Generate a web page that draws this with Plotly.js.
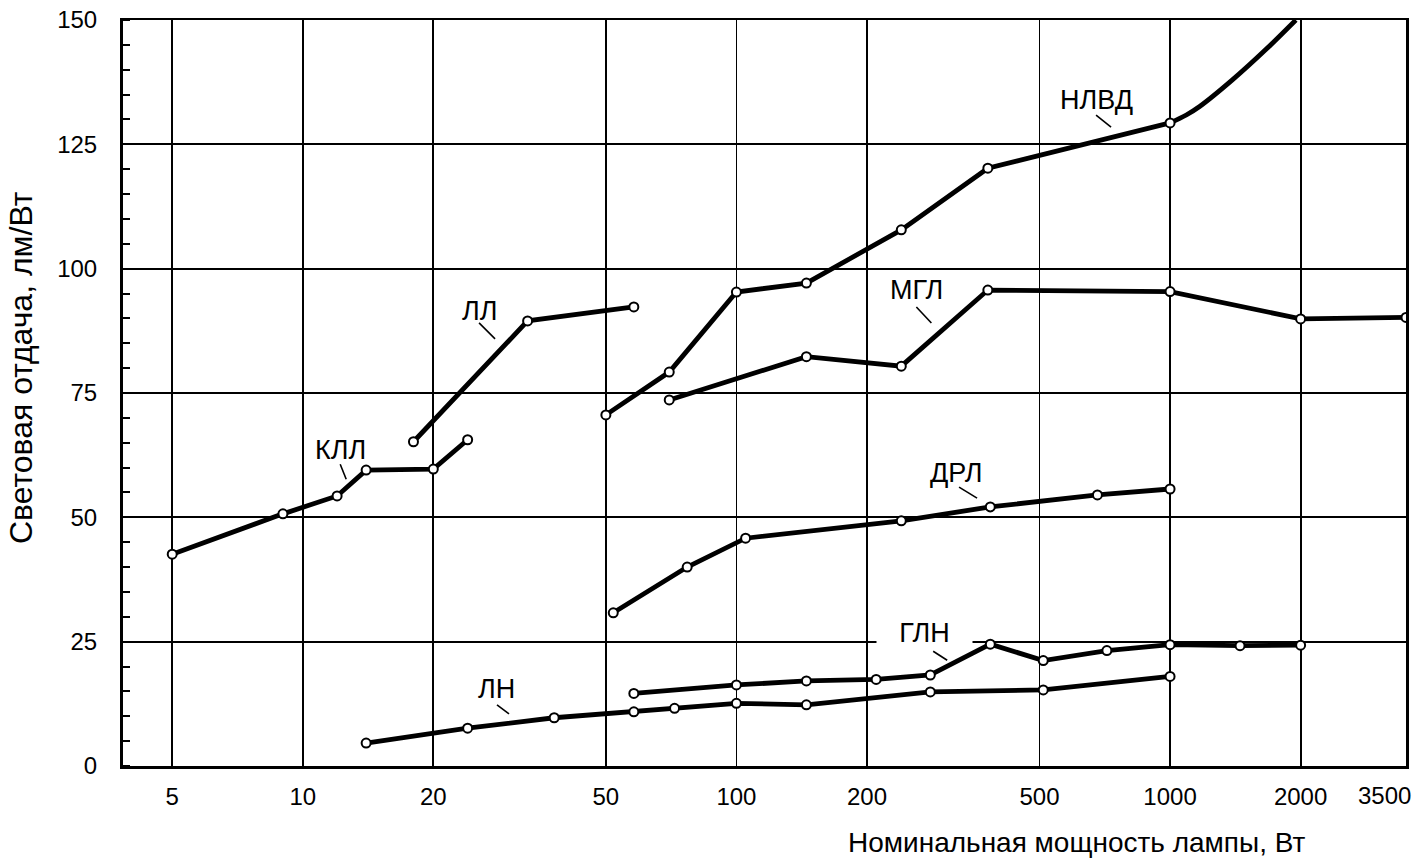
<!DOCTYPE html>
<html>
<head>
<meta charset="utf-8">
<script src="https://cdn.plot.ly/plotly-3.0.1.min.js"></script>
<style>
  html, body { margin: 0; padding: 0; background: #ffffff; }
  #chart { width: 1418px; height: 860px; }
</style>
</head>
<body>
<div id="chart"></div>
<script>
// ---- Data (lamp power, W  /  luminous efficacy, lm/W) ----
const kllPower  = [5, 9, 12, 14, 20, 24];
const kllEff    = [42.6, 50.7, 54.3, 59.5, 59.7, 65.6];

const llPower   = [18, 33, 58];
const llEff     = [65.2, 89.5, 92.3];

const nlvdPower = [50, 70, 100, 145, 240, 380, 1000];
const nlvdEff   = [70.6, 79.2, 95.3, 97.1, 107.8, 120.2, 129.3];
const nlvdCurvePower = [1000, 1090, 1170, 1390, 1660, 1950];
const nlvdCurveEff   = [129.3, 130.9, 132.6, 137.9, 144.0, 150];

const mglPower  = [70, 145, 240, 380, 1000, 2000, 3500];
const mglEff    = [73.6, 82.3, 80.4, 95.7, 95.4, 89.9, 90.2];

const drlPower  = [52, 77, 105, 240, 385, 680, 1000];
const drlEff    = [30.8, 40.0, 45.8, 49.3, 52.1, 54.5, 55.7];

const glnPower  = [58, 100, 145, 210, 280, 385, 510, 715, 1000, 1450, 2000];
const glnEff    = [14.6, 16.3, 17.1, 17.4, 18.3, 24.5, 21.2, 23.2, 24.4, 24.2, 24.3];

const lnPower   = [14, 24, 38, 58, 72, 100, 145, 280, 510, 1000];
const lnEff     = [4.6, 7.6, 9.7, 10.9, 11.6, 12.6, 12.3, 14.9, 15.3, 18.0];

const xTickVals = [5, 10, 20, 50, 100, 200, 500, 1000, 2000];
const xTickText = ['5', '10', '20', '50', '100', '200', '500', '1000', '2000'];
const xEndLabel = '3500';
const xTitle = 'Номинальная мощность лампы, Вт';
const yTitle = 'Световая отдача, лм/Вт';

// curve labels (name, label position x in W, y in lm/W, leader offsets in px)
const labelNames = ['НЛВД', 'МГЛ', 'ЛЛ', 'КЛЛ', 'ДРЛ', 'ГЛН', 'ЛН'];
const labelX     = [675, 260, 25.5, 12.2, 321, 271, 27.9];
const labelY     = [133.9, 95.7, 91.5, 63.5, 58.9, 26.7, 15.5];
const leaderOff  = [[0,-15,15,-27],[-2,-17,15,-33],[-2,-12,16,-28],[-11,-14,6,-29],[3,-14,21,-25],[9,-18,23,-27],[1,-16,13,-25]];

const FONT = 'Liberation Sans, Arial, Helvetica, sans-serif';

function series(name, x, y, withMarkers, shape) {
  return {
    type: 'scatter',
    mode: withMarkers ? 'lines+markers' : 'lines',
    name: name,
    x: x, y: y,
    line: { color: '#000000', width: 4.8, shape: shape || 'linear' },
    marker: { symbol: 'circle', size: 9, color: '#ffffff', line: { color: '#000000', width: 2 } },
    showlegend: false,
    hoverinfo: 'x+y+name'
  };
}

const traces = [
  series('КЛЛ', kllPower, kllEff, true),
  series('ЛЛ', llPower, llEff, true),
  series('НЛВД', nlvdCurvePower, nlvdCurveEff, false, 'spline'),
  series('НЛВД', nlvdPower, nlvdEff, true),
  series('МГЛ', mglPower, mglEff, true),
  series('ДРЛ', drlPower, drlEff, true),
  series('ГЛН', glnPower, glnEff, true),
  series('ЛН', lnPower, lnEff, true)
];

const annotations = labelNames.map((t, i) => ({
  x: Math.log10(labelX[i]), y: labelY[i], xref: 'x', yref: 'y',
  text: t, showarrow: false,
  font: { family: FONT, size: 27, color: '#000000' },
  bgcolor: t === 'ГЛН' ? '#ffffff' : 'rgba(0,0,0,0)',
  width: t === 'ГЛН' ? 95 : undefined,
  borderpad: 0
}));

annotations.push({
  x: Math.log10(3500), y: 0, xref: 'x', yref: 'paper',
  xanchor: 'right', yanchor: 'middle', xshift: 7, yshift: -29,
  text: xEndLabel, showarrow: false,
  font: { family: FONT, size: 24, color: '#000000' }
});
annotations.push({
  x: 0.7432, y: -0.102, xref: 'paper', yref: 'paper',
  xanchor: 'center', yanchor: 'middle',
  text: xTitle, showarrow: false,
  font: { family: FONT, size: 28, color: '#000000' }
});
annotations.push({
  x: -0.0795, y: 0.5335, xref: 'paper', yref: 'paper',
  xanchor: 'center', yanchor: 'middle', textangle: -90,
  text: yTitle, showarrow: false,
  font: { family: FONT, size: 32, color: '#000000' }
});

const shapes = labelNames.map((t, i) => ({
  type: 'line', xref: 'x', yref: 'y',
  xsizemode: 'pixel', ysizemode: 'pixel',
  xanchor: labelX[i], yanchor: labelY[i],
  x0: leaderOff[i][0], y0: leaderOff[i][1], x1: leaderOff[i][2], y1: leaderOff[i][3],
  line: { color: '#000000', width: 1.6 },
  layer: 'above'
}));

const layout = {
  width: 1418, height: 860,
  margin: { l: 123, r: 12, t: 20, b: 94 },
  paper_bgcolor: '#ffffff', plot_bgcolor: '#ffffff',
  font: { family: FONT, color: '#000000' },
  showlegend: false,
  xaxis: {
    type: 'log',
    range: [Math.log10(3.85), Math.log10(3500)],
    tickmode: 'array', tickvals: xTickVals, ticktext: xTickText,
    tickfont: { family: FONT, size: 24, color: '#000000' },
    ticks: 'outside', ticklen: 8, tickcolor: 'rgba(0,0,0,0)',
    showgrid: true, gridcolor: '#000000', gridwidth: 1.8,
    showline: true, linecolor: '#000000', linewidth: 2.5, mirror: true,
    zeroline: false
  },
  yaxis: {
    range: [0, 150],
    tickmode: 'linear', tick0: 0, dtick: 25,
    tickfont: { family: FONT, size: 24, color: '#000000' },
    ticks: 'outside', ticklen: 18, tickcolor: 'rgba(0,0,0,0)',
    minor: { dtick: 5, tick0: 0, ticks: 'inside', ticklen: 7, tickwidth: 2, tickcolor: '#000000', showgrid: false },
    showgrid: true, gridcolor: '#000000', gridwidth: 1.8,
    showline: true, linecolor: '#000000', linewidth: 3, mirror: true,
    zeroline: false
  },
  annotations: annotations,
  shapes: shapes
};

Plotly.newPlot('chart', traces, layout, { displayModeBar: false, staticPlot: true });
</script>
</body>
</html>
